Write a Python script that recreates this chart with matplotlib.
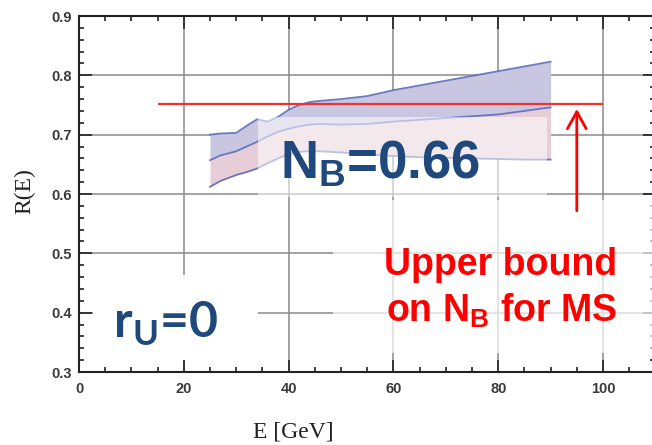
import numpy as np
import matplotlib
matplotlib.use("Agg")
import matplotlib.pyplot as plt
from matplotlib.patches import Rectangle
from matplotlib.ticker import MultipleLocator

# band edges
energy = [25, 27, 30, 32, 34, 36, 38, 40, 42, 44, 46, 50, 55, 60, 65, 70, 75, 80, 85, 90]
r_upper = [0.700, 0.702, 0.703, 0.715, 0.726, 0.722, 0.730, 0.742, 0.750, 0.755,
           0.757, 0.760, 0.765, 0.775, 0.783, 0.791, 0.799, 0.807, 0.815, 0.823]
r_mid = [0.657, 0.665, 0.672, 0.680, 0.688, 0.697, 0.705, 0.710, 0.714, 0.717,
         0.718, 0.717, 0.718, 0.722, 0.725, 0.728, 0.731, 0.734, 0.740, 0.746]
r_lower = [0.612, 0.622, 0.632, 0.637, 0.643, 0.652, 0.660, 0.667, 0.671, 0.672,
           0.672, 0.670, 0.667, 0.664, 0.662, 0.661, 0.660, 0.659, 0.658, 0.658]

bound_value = 0.752
bound_range = [15, 100]
arrow_x = 95
arrow_from = 0.567

x_ticks = [0, 20, 40, 60, 80, 100]
y_ticks = [0.3, 0.4, 0.5, 0.6, 0.7, 0.8, 0.9]

band_line = "#5d6cb8"
blue_fill = "#c8c6e1"
pink_fill = "#e6cdd7"
text_blue = "#1f497d"

fig = plt.figure(figsize=(6.52, 4.45), dpi=100)
W, H = 652, 445
# axes frame in pixels: left 79, top 16, bottom 372, 5.24 px per GeV
ax = fig.add_axes([79 / W, 1 - 372 / H, 110 * 5.24 / W, (372 - 16) / H])
ax.set_xlim(0, 110)
ax.set_ylim(0.3, 0.9)

ax.set_xticks(x_ticks)
ax.set_yticks(y_ticks)
ax.set_yticklabels([f"{v:.1f}" for v in y_ticks])
ax.xaxis.set_minor_locator(MultipleLocator(5))
ax.yaxis.set_minor_locator(MultipleLocator(0.02))
ax.tick_params(which="both", direction="in", top=True, right=True, width=1.2,
               color="#222222")
ax.tick_params(which="major", length=9)
ax.tick_params(which="minor", length=3.6)
ax.tick_params(axis="x", pad=7)
ax.tick_params(axis="y", pad=5)
for lab in ax.get_xticklabels() + ax.get_yticklabels():
    lab.set_fontfamily("Liberation Sans")
    lab.set_fontweight("bold")
    lab.set_fontsize(10.5)
    lab.set_color("#3a3a3a")
for sp in ax.spines.values():
    sp.set_linewidth(1.5)
    sp.set_color("#222222")

ax.grid(True, which="major", color="#8a8a8a", lw=1.1)
ax.set_axisbelow(True)

# bands
ax.fill_between(energy, r_mid, r_upper, color=blue_fill, lw=0, zorder=1)
ax.fill_between(energy, r_lower, r_mid, color=pink_fill, lw=0, zorder=1)
for edge in (r_upper, r_mid, r_lower):
    ax.plot(energy, edge, color=band_line, lw=1.3, alpha=0.9, zorder=1.2)

# white boxes behind the labels
ax.add_patch(Rectangle((2.7, 0.320), 31.5, 0.143, facecolor="white", lw=0, zorder=1.5))
ax.add_patch(Rectangle((34.2, 0.595), 55.1, 0.135, facecolor="white", alpha=0.55,
                       lw=0, zorder=1.5))
ax.add_patch(Rectangle((48.5, 0.332), 62, 0.258, facecolor="white", alpha=0.7,
                       lw=0, zorder=1.5))

# upper bound line and arrow
ax.hlines(bound_value, bound_range[0], bound_range[1], color="#ee3333", lw=1.6, zorder=2)
ax.annotate("", xy=(arrow_x, bound_value - 0.004), xytext=(arrow_x, arrow_from),
            arrowprops=dict(arrowstyle="->, head_length=0.45, head_width=0.25",
                            color="red", lw=2, mutation_scale=27), zorder=3)

# labels
fig.text(25 / W, 1 - 191 / H, "R(E)", rotation=90, ha="center", va="center",
         family="Liberation Serif", fontsize=17, color="#222222")
fig.text(293 / W, 1 - 432 / H, "E [GeV]", ha="center", va="center",
         family="Liberation Serif", fontsize=17, color="#222222")

fig.text(280 / W, 1 - 178 / H, r"N$_\mathregular{B}$=0.66", ha="left", va="baseline",
         family="Liberation Sans", fontweight="bold", fontsize=38, color=text_blue)
fig.text(113 / W, 1 - 338 / H, r"r$_\mathregular{U}$=0", ha="left", va="baseline",
         family="Lato", fontweight="bold", fontsize=36, color=text_blue)
fig.text(617 / W, 1 - 275 / H, "Upper bound", ha="right", va="baseline",
         family="Liberation Sans", fontweight="bold", fontsize=27, color="red")
fig.text(617 / W, 1 - 322 / H, r"on N$_\mathregular{B}$ for MS", ha="right", va="baseline",
         family="Liberation Sans", fontweight="bold", fontsize=27, color="red")

fig.savefig("out.png", dpi=100)
